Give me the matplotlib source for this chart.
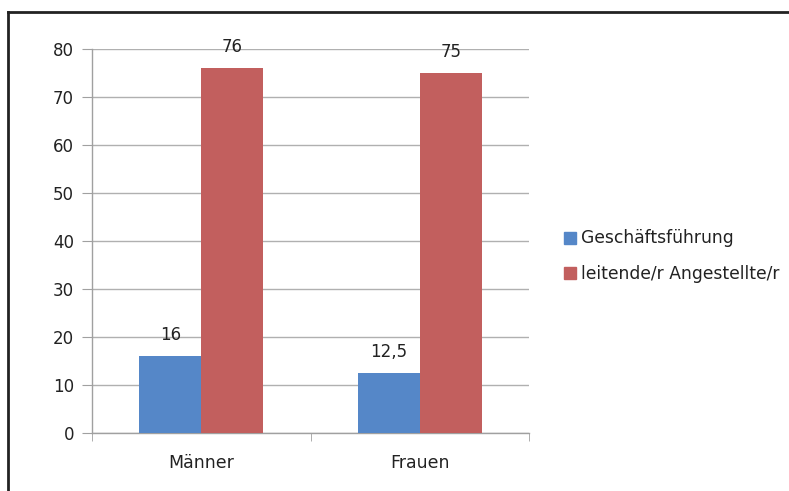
import matplotlib.pyplot as plt
import numpy as np
from matplotlib.lines import Line2D

categories = ['Männer', 'Frauen']
series_names = ['Geschäftsführung', 'leitende/r Angestellte/r']
geschaeft = [16, 12.5]
leitende = [76, 75]
colors = ['#5587C8', '#C25F5E']

plt.rcParams['font.family'] = ['DejaVu Sans']
plt.rcParams['font.size'] = 12

fig = plt.figure(figsize=(7.89, 4.91), dpi=100)
ax = fig.add_axes([0.1166, 0.1181, 0.5539, 0.7821])

x = np.arange(len(categories))
w = 0.284
b1 = ax.bar(x - w / 2, geschaeft, w, color=colors[0], label=series_names[0], zorder=3)
b2 = ax.bar(x + w / 2, leitende, w, color=colors[1], label=series_names[1], zorder=3)

def fmt(v):
    return ('%g' % v).replace('.', ',')

for bars, vals in [(b1, geschaeft), (b2, leitende)]:
    for rect, v in zip(bars, vals):
        ax.annotate(fmt(v), (rect.get_x() + rect.get_width() / 2, rect.get_height()),
                    xytext=(0, 9), textcoords='offset points', ha='center', va='bottom',
                    fontsize=12, color='#222222')

ax.set_xlim(-0.5, 1.5)
ax.set_ylim(0, 80)
ax.set_yticks(range(0, 81, 10))
ax.yaxis.grid(True, color='#b0b0b0', linewidth=1, zorder=0)
ax.set_axisbelow(True)

ax.set_xticks(x)
ax.set_xticklabels(categories, fontsize=12.5)
ax.tick_params(axis='x', length=0, pad=15, labelcolor='#222222')
ax.set_xticks([-0.5, 0.5, 1.5], minor=True)
ax.tick_params(axis='x', which='minor', length=6, color='#a0a0a0', direction='out')
ax.tick_params(axis='y', length=7, color='#a0a0a0', pad=6, labelcolor='#222222')

for s in ['top', 'right']:
    ax.spines[s].set_visible(False)
for s in ['left', 'bottom']:
    ax.spines[s].set_color('#a0a0a0')
    ax.spines[s].set_linewidth(1)

handles = [Line2D([], [], marker='s', linestyle='none', markersize=9,
                  markerfacecolor=c, markeredgecolor=c) for c in colors]
fig.legend(handles, series_names, loc='upper left', bbox_to_anchor=(0.703, 0.550),
           frameon=False, handlelength=0.8, handletextpad=0.25, labelspacing=1.0,
           borderpad=0, fontsize=12.3, labelcolor='#222222')

# chart frame (top and left edges visible)
fig.add_artist(Line2D([0.0101, 1.0], [0.9756, 0.9756], color='#222222', linewidth=2))
fig.add_artist(Line2D([0.0101, 0.0101], [0.0, 0.9756], color='#222222', linewidth=2))

fig.savefig('out.png', dpi=100)
